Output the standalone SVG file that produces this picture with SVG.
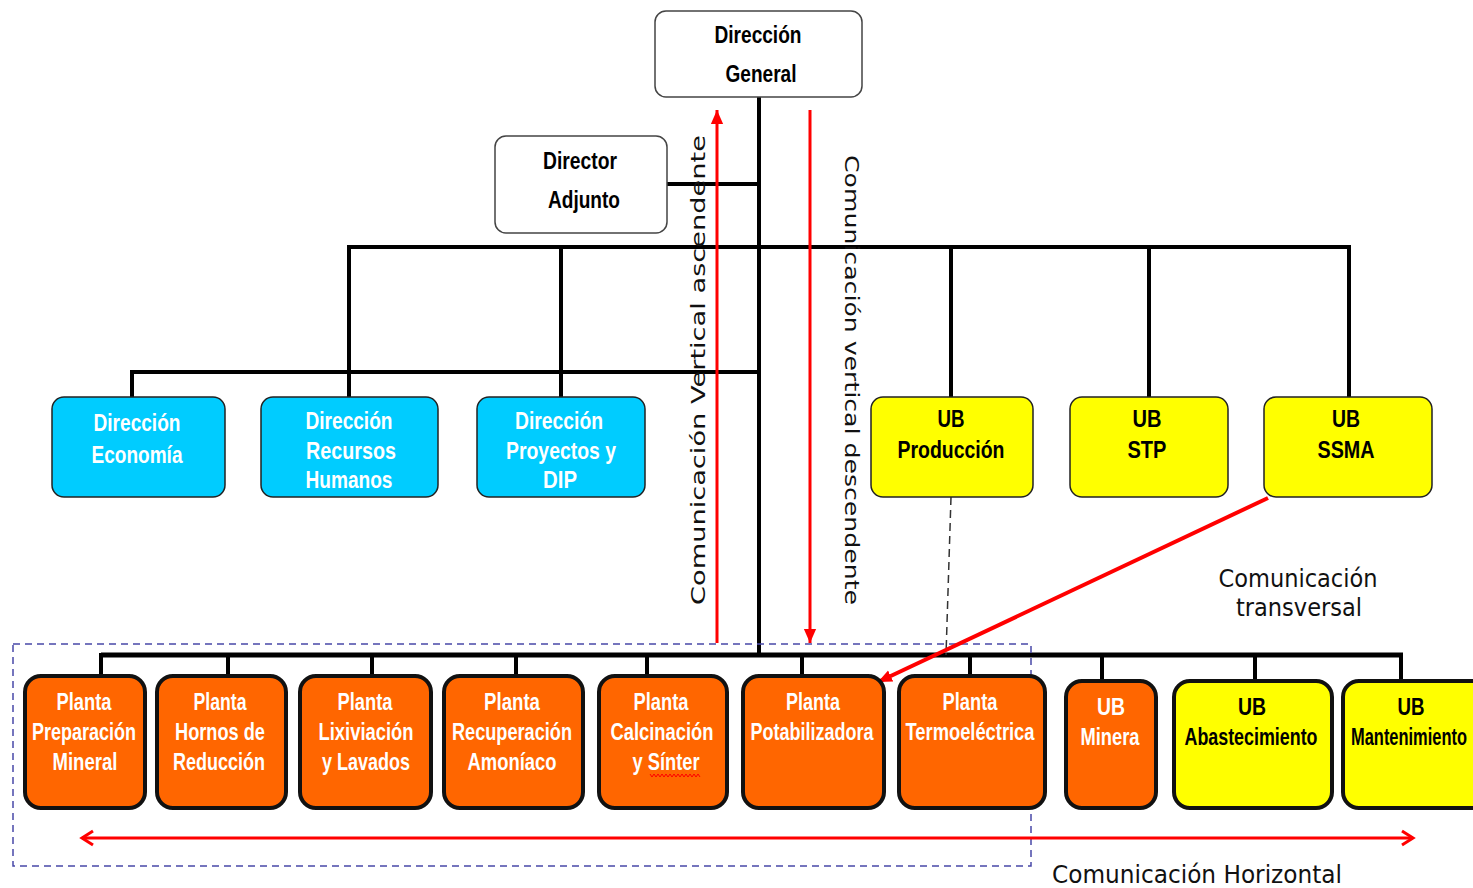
<svg xmlns="http://www.w3.org/2000/svg" width="1473" height="888" viewBox="0 0 1473 888">
<style>
.wbox{fill:#fff;stroke:#444;stroke-width:1.5}
.bbox{fill:#00CCFF;stroke:#222;stroke-width:1.5}
.ybox{fill:#FFFF00;stroke:#222;stroke-width:1.5}
.obox{fill:#FF6600;stroke:#111;stroke-width:4}
.ybox2{fill:#FFFF00;stroke:#111;stroke-width:4}
.lbl{font-family:"Liberation Sans Narrow","Liberation Sans",Arial,sans-serif;font-weight:bold;font-size:24px;text-anchor:middle}
.w{fill:#fff}
.k{fill:#000}
.bus{stroke:#000;stroke-width:4;fill:none}
.red{stroke:#FF0000;stroke-width:3;fill:none}
.note{font-family:"DejaVu Sans Condensed","DejaVu Sans",sans-serif;font-size:24px;fill:#111;text-anchor:middle}
.vt{font-family:"DejaVu Sans",Verdana,sans-serif;font-size:20px;fill:#111}
</style>
<defs>
<marker id="ah" markerUnits="userSpaceOnUse" markerWidth="14" markerHeight="18" refX="16" refY="7" orient="auto" viewBox="0 0 16 14"><path d="M0,0 L16,7 L0,14 z" fill="#FF0000"/></marker>
<marker id="oh" markerUnits="userSpaceOnUse" markerWidth="16" markerHeight="18" refX="13" refY="8" orient="auto-start-reverse" viewBox="0 0 16 16"><path d="M2,1 L13,8 L2,15" fill="none" stroke="#FF0000" stroke-width="3"/></marker>
</defs>

<g id="connectors">
<line class="bus" x1="759" y1="97" x2="759" y2="657"/>
<line class="bus" x1="667" y1="184" x2="759" y2="184"/>
<line class="bus" x1="349" y1="247" x2="1349" y2="247"/>
<line class="bus" x1="349" y1="245" x2="349" y2="397"/>
<line class="bus" x1="561" y1="245" x2="561" y2="397"/>
<line class="bus" x1="951" y1="245" x2="951" y2="397"/>
<line class="bus" x1="1149" y1="245" x2="1149" y2="397"/>
<line class="bus" x1="1349" y1="245" x2="1349" y2="397"/>
<polyline class="bus" points="132,397 132,372 761,372"/>
<line x1="101" y1="655" x2="1403" y2="655" stroke="#000" stroke-width="5"/>
<line class="bus" x1="101" y1="653" x2="101" y2="676"/>
<line class="bus" x1="228" y1="653" x2="228" y2="676"/>
<line class="bus" x1="372" y1="653" x2="372" y2="676"/>
<line class="bus" x1="516" y1="653" x2="516" y2="676"/>
<line class="bus" x1="647" y1="653" x2="647" y2="682"/>
<line class="bus" x1="802" y1="653" x2="802" y2="680"/>
<line class="bus" x1="970" y1="653" x2="970" y2="680"/>
<line class="bus" x1="1102" y1="653" x2="1102" y2="682"/>
<line class="bus" x1="1255" y1="653" x2="1255" y2="682"/>
<line class="bus" x1="1401" y1="653" x2="1401" y2="682"/>
<line x1="951" y1="497" x2="946" y2="655" stroke="#333" stroke-width="1.5" stroke-dasharray="8,5"/>
<rect x="13" y="644" width="1018" height="222" fill="none" stroke="#4848A8" stroke-width="1.5" stroke-dasharray="7,5"/>
<line class="red" x1="717" y1="643" x2="717" y2="110" marker-end="url(#ah)"/>
<line class="red" x1="810" y1="110" x2="810" y2="643" marker-end="url(#ah)"/>
<line x1="1268" y1="498" x2="878" y2="682" stroke="#FF0000" stroke-width="4" marker-end="url(#ah)"/>
<line class="red" x1="82" y1="838" x2="1413" y2="838" marker-start="url(#oh)" marker-end="url(#oh)"/>
</g>

<g id="n-dg"><rect class="wbox" x="655" y="11" width="207" height="86" rx="11"/>
<text class="lbl k" x="758" y="43" textLength="87" lengthAdjust="spacingAndGlyphs">Dirección</text>
<text class="lbl k" x="761" y="82" textLength="71" lengthAdjust="spacingAndGlyphs">General</text></g>

<g id="n-da"><rect class="wbox" x="495" y="136" width="172" height="97" rx="11"/>
<text class="lbl k" x="580" y="169" textLength="74" lengthAdjust="spacingAndGlyphs">Director</text>
<text class="lbl k" x="584" y="208" textLength="72" lengthAdjust="spacingAndGlyphs">Adjunto</text></g>

<g id="n-eco"><rect class="bbox" x="52" y="397" width="173" height="100" rx="12"/>
<text class="lbl w" x="137" y="431" textLength="87" lengthAdjust="spacingAndGlyphs">Dirección</text>
<text class="lbl w" x="137" y="463" textLength="91" lengthAdjust="spacingAndGlyphs">Economía</text></g>

<g id="n-rh"><rect class="bbox" x="261" y="397" width="177" height="100" rx="12"/>
<text class="lbl w" x="349" y="429" textLength="87" lengthAdjust="spacingAndGlyphs">Dirección</text>
<text class="lbl w" x="351" y="459" textLength="90" lengthAdjust="spacingAndGlyphs">Recursos</text>
<text class="lbl w" x="349" y="488" textLength="87" lengthAdjust="spacingAndGlyphs">Humanos</text></g>

<g id="n-dip"><rect class="bbox" x="477" y="397" width="168" height="100" rx="12"/>
<text class="lbl w" x="559" y="429" textLength="88" lengthAdjust="spacingAndGlyphs">Dirección</text>
<text class="lbl w" x="561" y="459" textLength="110" lengthAdjust="spacingAndGlyphs">Proyectos y</text>
<text class="lbl w" x="560" y="488" textLength="34" lengthAdjust="spacingAndGlyphs">DIP</text></g>

<g id="n-prod"><rect class="ybox" x="871" y="397" width="162" height="100" rx="12"/>
<text class="lbl k" x="951" y="427" textLength="27" lengthAdjust="spacingAndGlyphs">UB</text>
<text class="lbl k" x="951" y="458" textLength="107" lengthAdjust="spacingAndGlyphs">Producción</text></g>

<g id="n-stp"><rect class="ybox" x="1070" y="397" width="158" height="100" rx="12"/>
<text class="lbl k" x="1147" y="427" textLength="29" lengthAdjust="spacingAndGlyphs">UB</text>
<text class="lbl k" x="1147" y="458" textLength="39" lengthAdjust="spacingAndGlyphs">STP</text></g>

<g id="n-ssma"><rect class="ybox" x="1264" y="397" width="168" height="100" rx="12"/>
<text class="lbl k" x="1346" y="427" textLength="28" lengthAdjust="spacingAndGlyphs">UB</text>
<text class="lbl k" x="1346" y="458" textLength="57" lengthAdjust="spacingAndGlyphs">SSMA</text></g>

<g id="n-p1"><rect class="obox" x="25" y="676" width="120" height="132" rx="16"/>
<text class="lbl w" x="84" y="710" textLength="55" lengthAdjust="spacingAndGlyphs">Planta</text>
<text class="lbl w" x="84" y="740" textLength="104" lengthAdjust="spacingAndGlyphs">Preparación</text>
<text class="lbl w" x="85" y="770" textLength="65" lengthAdjust="spacingAndGlyphs">Mineral</text></g>

<g id="n-p2"><rect class="obox" x="157" y="676" width="129" height="132" rx="16"/>
<text class="lbl w" x="220" y="710" textLength="53" lengthAdjust="spacingAndGlyphs">Planta</text>
<text class="lbl w" x="220" y="740" textLength="90" lengthAdjust="spacingAndGlyphs">Hornos de</text>
<text class="lbl w" x="219" y="770" textLength="92" lengthAdjust="spacingAndGlyphs">Reducción</text></g>

<g id="n-p3"><rect class="obox" x="300" y="676" width="131" height="132" rx="16"/>
<text class="lbl w" x="365" y="710" textLength="55" lengthAdjust="spacingAndGlyphs">Planta</text>
<text class="lbl w" x="366" y="740" textLength="95" lengthAdjust="spacingAndGlyphs">Lixiviación</text>
<text class="lbl w" x="366" y="770" textLength="88" lengthAdjust="spacingAndGlyphs">y Lavados</text></g>

<g id="n-p4"><rect class="obox" x="444" y="676" width="139" height="132" rx="16"/>
<text class="lbl w" x="512" y="710" textLength="56" lengthAdjust="spacingAndGlyphs">Planta</text>
<text class="lbl w" x="512" y="740" textLength="120" lengthAdjust="spacingAndGlyphs">Recuperación</text>
<text class="lbl w" x="512" y="770" textLength="89" lengthAdjust="spacingAndGlyphs">Amoníaco</text></g>

<g id="n-p5"><rect class="obox" x="599" y="676" width="128" height="132" rx="16"/>
<text class="lbl w" x="661" y="710" textLength="55" lengthAdjust="spacingAndGlyphs">Planta</text>
<text class="lbl w" x="662" y="740" textLength="103" lengthAdjust="spacingAndGlyphs">Calcinación</text>
<text class="lbl w" x="666" y="770" textLength="67" lengthAdjust="spacingAndGlyphs">y Sínter</text>
<polyline points="650,774 652,777 654,774 656,777 658,774 660,777 662,774 664,777 666,774 668,777 670,774 672,777 674,774 676,777 678,774 680,777 682,774 684,777 686,774 688,777 690,774 692,777 694,774 696,777 698,774 700,777" fill="none" stroke="#FF0000" stroke-width="1"/></g>

<g id="n-p6"><rect class="obox" x="743" y="676" width="141" height="132" rx="16"/>
<text class="lbl w" x="813" y="710" textLength="54" lengthAdjust="spacingAndGlyphs">Planta</text>
<text class="lbl w" x="812" y="740" textLength="123" lengthAdjust="spacingAndGlyphs">Potabilizadora</text></g>

<g id="n-p7"><rect class="obox" x="899" y="676" width="146" height="132" rx="16"/>
<text class="lbl w" x="970" y="710" textLength="55" lengthAdjust="spacingAndGlyphs">Planta</text>
<text class="lbl w" x="970" y="740" textLength="129" lengthAdjust="spacingAndGlyphs">Termoeléctrica</text></g>

<g id="n-min"><rect class="obox" x="1066" y="681" width="90" height="127" rx="16"/>
<text class="lbl w" x="1111" y="715" textLength="28" lengthAdjust="spacingAndGlyphs">UB</text>
<text class="lbl w" x="1110" y="745" textLength="59" lengthAdjust="spacingAndGlyphs">Minera</text></g>

<g id="n-aba"><rect class="ybox2" x="1174" y="681" width="158" height="127" rx="16"/>
<text class="lbl k" x="1252" y="715" textLength="28" lengthAdjust="spacingAndGlyphs">UB</text>
<text class="lbl k" x="1251" y="745" textLength="133" lengthAdjust="spacingAndGlyphs">Abastecimiento</text></g>

<g id="n-man"><rect class="ybox2" x="1343" y="681" width="150" height="127" rx="16"/>
<text class="lbl k" x="1411" y="715" textLength="27" lengthAdjust="spacingAndGlyphs">UB</text>
<text class="lbl k" x="1409" y="745" textLength="116" lengthAdjust="spacingAndGlyphs">Mantenimiento</text></g>

<g id="labels">
<text class="vt" transform="translate(705,605) rotate(-90)" textLength="470" lengthAdjust="spacingAndGlyphs">Comunicación Vertical ascendente</text>
<text class="vt" transform="translate(845,155) rotate(90)" textLength="450" lengthAdjust="spacingAndGlyphs">Comunicación vertical  descendente</text>
<text class="note" x="1298" y="587" textLength="159" lengthAdjust="spacingAndGlyphs">Comunicación</text>
<text class="note" x="1299" y="616" textLength="126" lengthAdjust="spacingAndGlyphs">transversal</text>
<text class="note" x="1197" y="883" font-size="26" textLength="290" lengthAdjust="spacingAndGlyphs">Comunicación Horizontal</text>
</g>
</svg>
